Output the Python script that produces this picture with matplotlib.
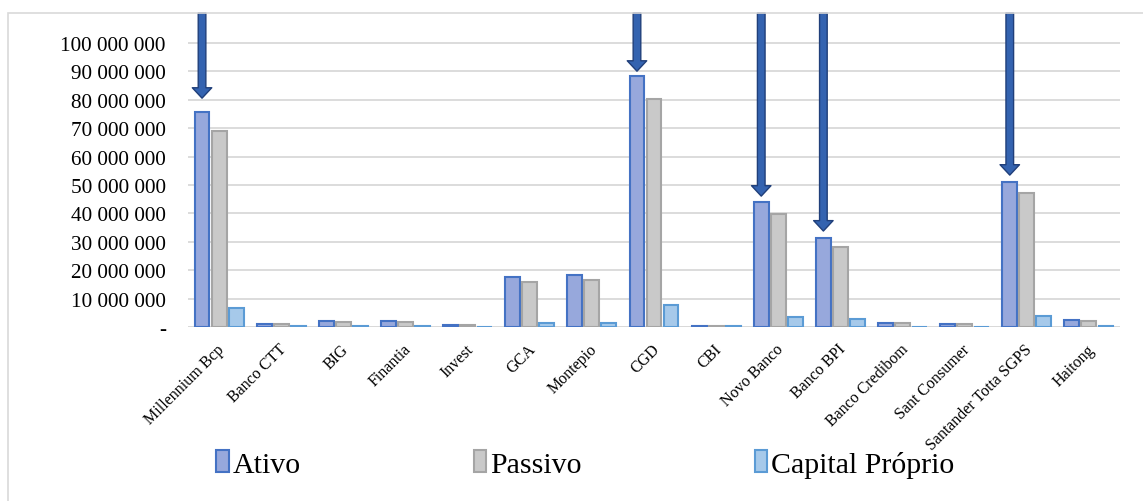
import numpy as np
import matplotlib.pyplot as plt
from matplotlib.patches import Rectangle

bancos = ['Millennium Bcp', 'Banco CTT', 'BIG', 'Finantia', 'Invest', 'GCA', 'Montepio', 'CGD',
          'CBI', 'Novo Banco', 'Banco BPI', 'Banco Credibom', 'Sant Consumer',
          'Santander Totta SGPS', 'Haitong']
ativo = [75.7, 1.1, 2.1, 2.0, 0.8, 17.6, 18.3, 88.4, 0.5, 44.0, 31.3, 1.5, 1.2, 51.1, 2.5]
passivo = [69.0, 1.0, 1.8, 1.7, 0.7, 15.9, 16.5, 80.3, 0.3, 39.8, 28.1, 1.4, 1.1, 47.1, 2.1]
capital = [6.7, 0.2, 0.3, 0.3, 0.1, 1.4, 1.4, 7.9, 0.2, 3.6, 2.9, 0.1, 0.1, 3.9, 0.5]
ativo = np.array(ativo) * 1e6
passivo = np.array(passivo) * 1e6
capital = np.array(capital) * 1e6

# bancos assinalados com seta e ponta da seta (milhoes)
destaque = ['Millennium Bcp', 'CGD', 'Novo Banco', 'Banco BPI', 'Santander Totta SGPS']
ponta_seta = [80.6, 90.1, 46.1, 33.8, 53.5]

plt.rcParams['font.family'] = ['Liberation Serif', 'DejaVu Serif']

fig = plt.figure(figsize=(11.43, 5.02), dpi=100)
ax = fig.add_axes([188/1143, 1-328/502, (1120-188)/1143, (328-14)/502])

x = np.arange(len(bancos))
w = 0.24
d = 0.274
ax.bar(x - d, ativo, w, color='#97A8DC', edgecolor='#4472C4', linewidth=1.5, label='Ativo', zorder=3)
ax.bar(x, passivo, w, color='#C9C9C9', edgecolor='#A5A5A5', linewidth=1.5, label='Passivo', zorder=3)
ax.bar(x + d, capital, w, color='#A6C9EA', edgecolor='#5B9BD5', linewidth=1.5, label='Capital Próprio', zorder=3)

ax.set_xlim(-0.5, len(bancos) - 0.5)
ymax = 110.6e6
ax.set_ylim(0, ymax)
yt = np.arange(0, 100e6 + 1, 10e6)
ax.set_yticks(yt)
ax.set_yticklabels(['-'] + ['{:,.0f}'.format(v).replace(',', ' ') for v in yt[1:]], fontsize=15.3)
ax.yaxis.grid(True, color='#D9D9D9', linewidth=1.3, zorder=0)
ax.tick_params(axis='y', length=0, pad=16)
ax.tick_params(axis='x', length=0, pad=10)
ax.set_xticks(x - 0.04)
ax.set_xticklabels(bancos, rotation=45, ha='right', va='top', rotation_mode='anchor', fontsize=11.5)
for s in ax.spines.values():
    s.set_visible(False)
ax.axhline(0, color='#D9D9D9', linewidth=1.3, zorder=2)

for b, tip in zip(destaque, ponta_seta):
    i = bancos.index(b)
    ax.annotate('', xy=(i - d, tip * 1e6), xytext=(i - d, ymax),
                arrowprops=dict(width=5.5, headwidth=14, headlength=7.5, shrink=0,
                                facecolor='#3463B0', edgecolor='#203F7A', linewidth=1),
                annotation_clip=False, zorder=5)

fig.patches.append(Rectangle((8/1143, -0.1), 1.2, 1.1 - 14/502, transform=fig.transFigure,
                             fill=False, edgecolor='#D9D9D9', linewidth=1.2))

fig.legend(loc='center', bbox_to_anchor=(0.512, 1-465/502), ncol=3, frameon=False,
           fontsize=21.5, handlelength=0.42, handleheight=0.75, handletextpad=0.12,
           columnspacing=5.8)

fig.savefig('out.png', dpi=100)
